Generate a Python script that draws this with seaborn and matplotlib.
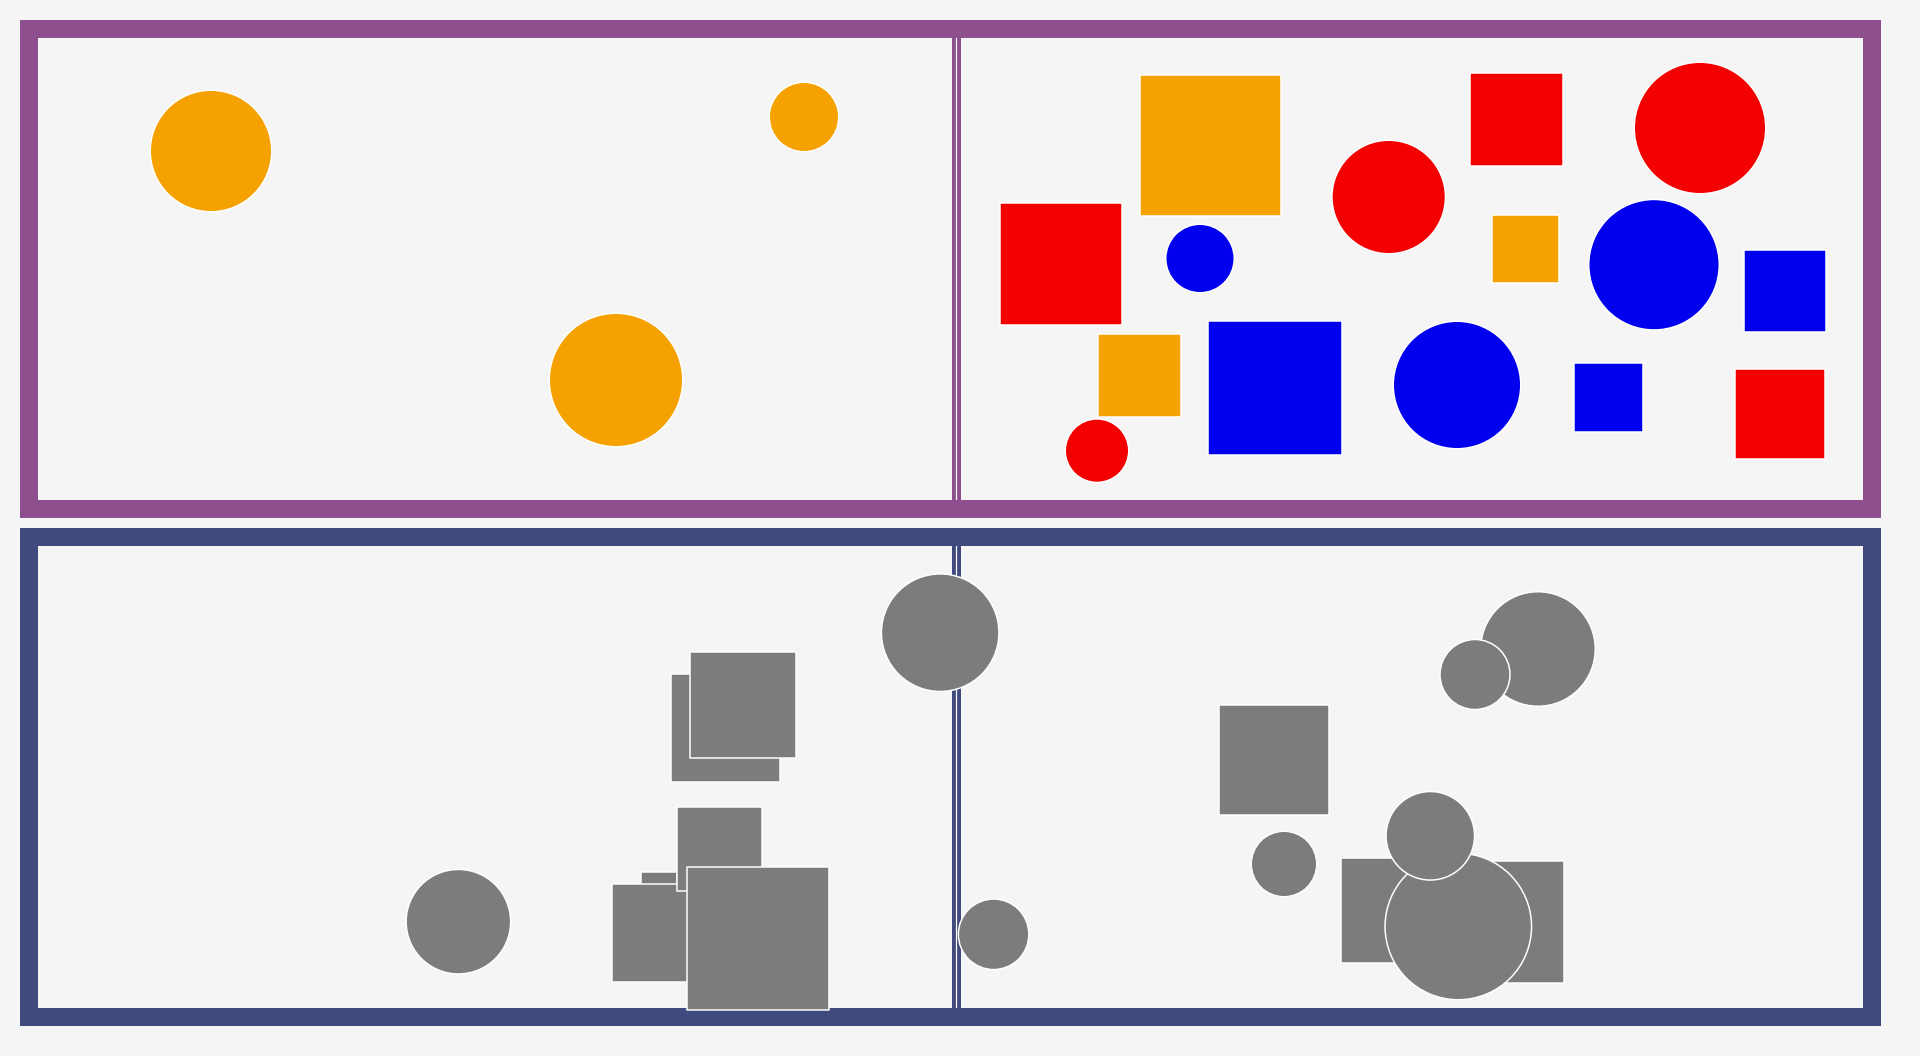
import numpy as np
import pandas as pd
import matplotlib
matplotlib.use("Agg")
import matplotlib.pyplot as plt
import seaborn as sns

sns.set_theme(style="white")
plt.rcParams["font.family"] = ["DejaVu Sans"]

BG = "#f5f5f5"
PALETTE = {"orange": "#f5a100", "red": "#f40000", "blue": "#0000ee", "gray": "#7c7c7c"}
MARKERS = {"circle": "o", "square": "s"}

# 上面板（像素坐标）
top_x = [211, 804, 616, 1210.5, 1061, 1200, 1388.7, 1139.5, 1097, 1275,
         1516.5, 1700, 1525.5, 1654, 1785, 1457, 1608.5, 1780]
top_y = [151, 117, 380, 145.5, 264, 258.5, 197, 375.5, 450.7, 388,
         119.5, 128, 249, 264.7, 291, 385, 397.5, 414]
top_size = [120, 68, 132, 139, 120, 67, 112, 81, 62, 132,
            91, 130, 66, 129, 80, 126, 67, 88]
top_shape = ["circle", "circle", "circle", "square", "square", "circle", "circle", "square", "circle", "square",
             "square", "circle", "square", "circle", "square", "circle", "square", "square"]
top_color = ["orange", "orange", "orange", "orange", "red", "blue", "red", "orange", "red", "blue",
             "red", "red", "orange", "blue", "blue", "blue", "blue", "red"]

# 下面板（像素坐标，按绘制顺序）
bot_x = [458.4, 940.2, 725.5, 743, 659, 661, 719.4, 758, 993.6,
         1274, 1284, 1538, 1475, 1393.7, 1503, 1458.3, 1430.3]
bot_y = [921.7, 632.7, 727.8, 705, 890, 933, 849, 938.5, 934.3,
         760, 864, 649, 674.5, 910.3, 921.8, 926.5, 835.8]
bot_size = [103, 116, 107, 104, 34, 96, 83, 141, 69,
            108, 64, 113, 68.5, 103, 120, 145, 87]
bot_shape = ["circle", "circle", "square", "square", "square", "square", "square", "square", "circle",
             "square", "circle", "circle", "circle", "square", "square", "circle", "circle"]
bot_color = ["gray"] * len(bot_x)

DPI = 100
EDGE_PX = 1.5


def draw_panel(ax, xs, ys, sizes, shapes, colors, frame_color, ylim):
    df = pd.DataFrame({"x": xs, "y": ys, "size": sizes, "shape": shapes, "color": colors})
    ax.set_facecolor(BG)
    ax.set_xlim(29, 1872)
    ax.set_ylim(*ylim)
    # 中间的双竖线
    ax.axvline(955.5, color=frame_color, lw=9 * 72 / DPI, zorder=1)
    ax.axvline(955.5, color="white", lw=1.2 * 72 / DPI, zorder=1.1)
    s = ((df["size"].to_numpy() + EDGE_PX) * 72 / DPI) ** 2
    sns.scatterplot(data=df, x="x", y="y", hue="color", palette=PALETTE,
                    style="shape", markers=MARKERS, s=s, edgecolor="white",
                    linewidth=EDGE_PX * 72 / DPI, legend=False, ax=ax,
                    clip_on=False, zorder=3)
    for sp in ax.spines.values():
        sp.set_visible(True)
        sp.set_color(frame_color)
        sp.set_linewidth(18 * 72 / DPI)
        sp.set_zorder(2.5)
    ax.set_xticks([])
    ax.set_yticks([])
    ax.set_xlabel("")
    ax.set_ylabel("")
    ax.grid(False)


fig = plt.figure(figsize=(19.2, 10.56), dpi=DPI, facecolor=BG)
W, H = 1920, 1056
ax_top = fig.add_axes([29 / W, (H - 509) / H, 1843 / W, 480 / H])
ax_bot = fig.add_axes([29 / W, (H - 1017) / H, 1843 / W, 480 / H])

draw_panel(ax_top, top_x, top_y, top_size, top_shape, top_color, "#8e4f8e", (509, 29))
draw_panel(ax_bot, bot_x, bot_y, bot_size, bot_shape, bot_color, "#404a7e", (1017, 537))

fig.savefig("out.png", dpi=DPI, facecolor=BG)
